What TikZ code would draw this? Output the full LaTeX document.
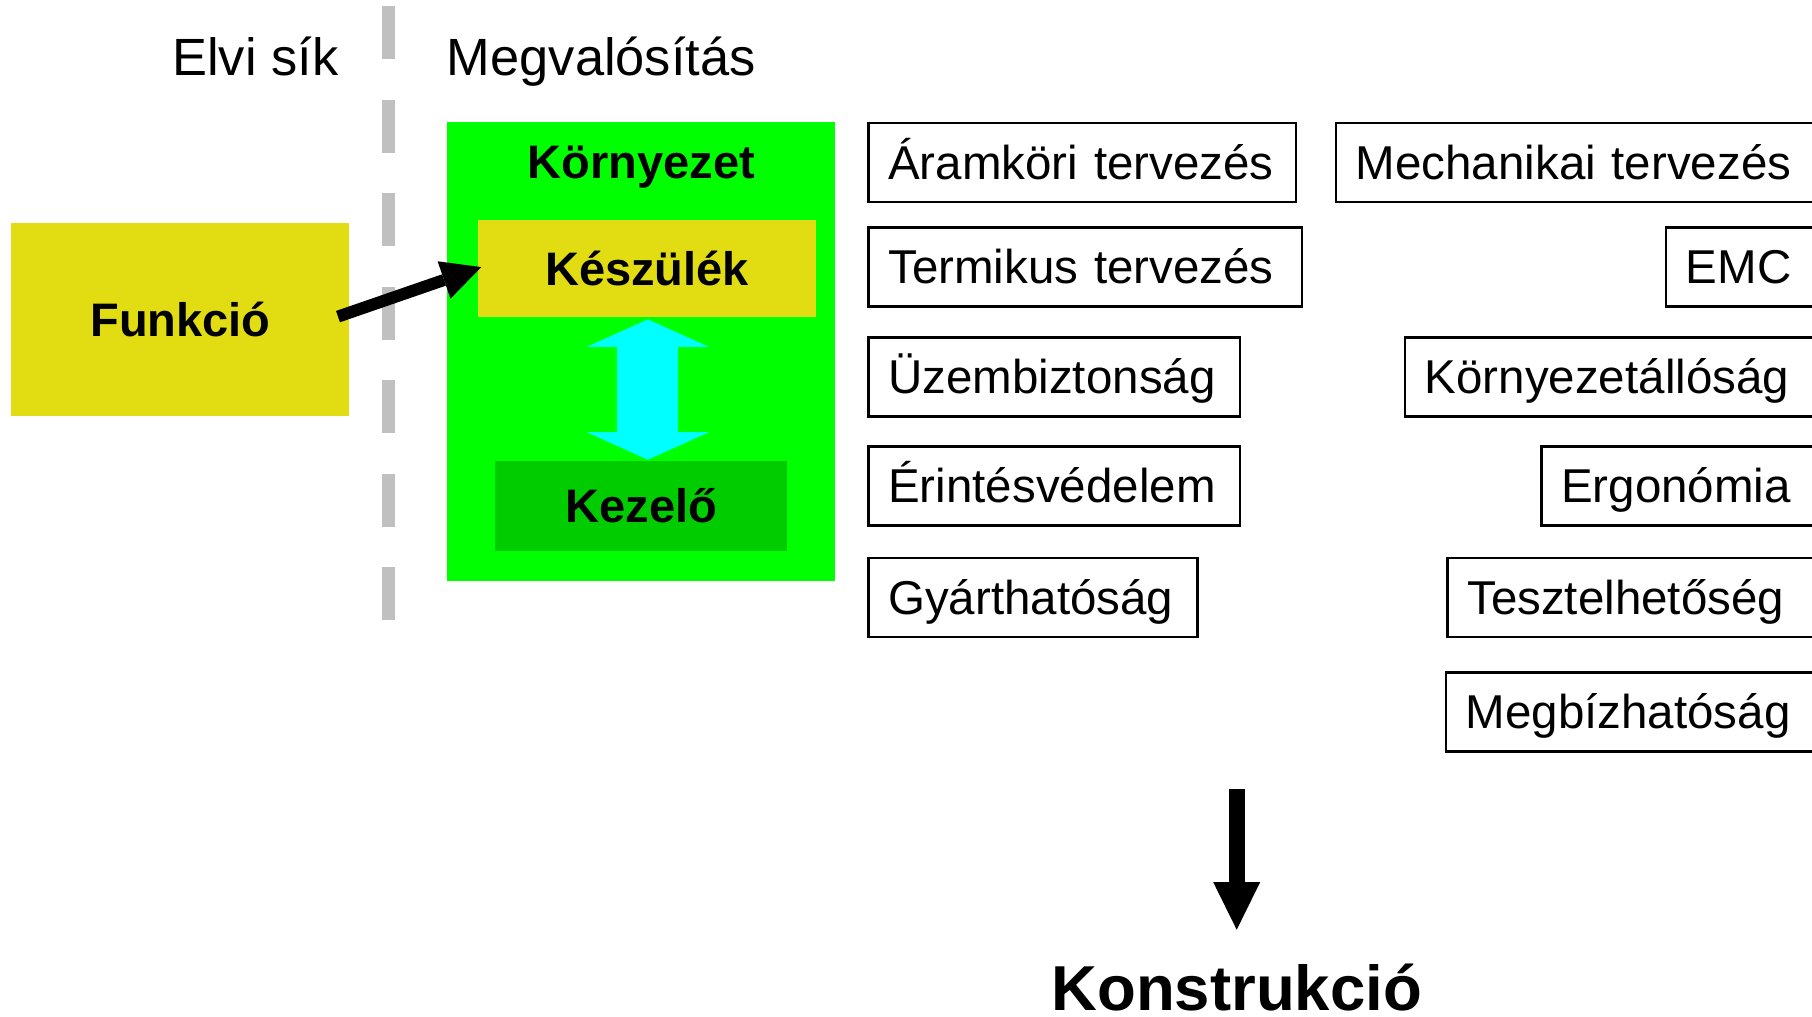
\documentclass[tikz,border=0pt]{standalone}
\usepackage{fontspec}
\setmainfont{Liberation Sans}
\usetikzlibrary{arrows.meta,calc}

\definecolor{funcyellow}{RGB}{225,221,18}
\definecolor{envgreen}{RGB}{0,255,0}
\definecolor{opgreen}{RGB}{0,204,0}
\definecolor{linkcyan}{RGB}{0,255,255}
\definecolor{dashgray}{RGB}{192,192,192}

\tikzset{
  headtext/.style={font=\fontsize{26.2}{30}\selectfont, inner sep=0pt},
  boldtext/.style={font=\bfseries\fontsize{23.5}{28}\selectfont, text height=16.8pt, text depth=0pt},
  solidbox/.style={anchor=north west, inner sep=0pt, boldtext},
  taskbox/.style={anchor=north west, draw=black, line width=1.25pt, align=left,
    inner xsep=10pt, inner ysep=0pt, minimum height=39.5pt,
    font=\fontsize{23.75}{28}\selectfont, text height=17pt, text depth=0pt},
  planeline/.style={draw=dashgray, line width=6.5pt, dash pattern=on 26.5pt off 20.25pt},
  realizes/.style={draw=black, line width=6pt,
    -{Triangle[length=19.7pt,width=19.75pt,line width=0pt]}},
  interacts/.style={draw=linkcyan, line width=30.5pt,
    {Triangle[length=13.75pt,width=61pt,line width=0pt]}-{Triangle[length=13.75pt,width=61pt,line width=0pt]}},
  leadsto/.style={draw=black, line width=8pt,
    -{Triangle[length=23.8pt,width=23.5pt,line width=0pt]}}
}

\begin{document}
\begin{tikzpicture}[x=0.5pt,y=-0.5pt]
\useasboundingbox (0,0) rectangle (1812,1017);
\clip (0,0) rectangle (1812,1017);

% boundary between the abstract plane and the realisation
\draw[planeline] (388,6) -- (388,620);
\node[headtext, anchor=base west] (elvi) at (172,75.6) {Elvi sík};
\node[headtext, anchor=base west] (megv) at (446.5,75.6) {Megvalósítás};

% function on the abstract side
\node[solidbox, fill=funcyellow, minimum width=169pt, minimum height=96.5pt] (fun) at (11,222.7) {Funkció};

% environment with device and operator
\node[anchor=north west, inner sep=0pt, fill=envgreen, minimum width=194pt, minimum height=229.5pt] (env) at (447,122) {};
\node[boldtext, anchor=base, inner sep=0pt] (envlabel) at ($(env.north)+(0,56.6)$) {Környezet};
\node[solidbox, fill=funcyellow, minimum width=168.75pt, minimum height=48.3pt] (kesz) at (478,220) {Készülék};
\node[solidbox, fill=opgreen, minimum width=146.2pt, minimum height=45.25pt] (kez) at (494.6,460.5) {Kezelő};

\draw[interacts] ($(kesz.south)+(0.7,2)$) -- ($(kez.north -| kesz.south)+(0.7,-0.8)$);
\draw[realizes] ($(fun.east)+(-11.8,-3)$) -- ($(kesz.west)+(3.3,-1.6)$);

% design aspects, left column
\node[taskbox, text width=193.75pt] (aram) at (867,121.5) {Áramköri tervezés};
\node[taskbox, text width=196.75pt] (term) at (867,226)   {Termikus tervezés};
\node[taskbox, text width=165.75pt] (uzem) at (867,336)   {Üzembiztonság};
\node[taskbox, text width=165.75pt] (erint) at (867,445)  {Érintésvédelem};
\node[taskbox, text width=144.5pt]  (gyart) at (867,556.5){Gyárthatóság};

% design aspects, right column (running past the right edge)
\node[taskbox, text width=242pt] (mech) at (1334.5,121.5) {Mechanikai tervezés};
\node[taskbox, text width=100pt] (emc)  at (1664.5,226)   {EMC};
\node[taskbox, text width=228pt] (korny) at (1403.5,336)  {Környezetállóság};
\node[taskbox, text width=160pt] (ergo) at (1540,445)     {Ergonómia};
\node[taskbox, text width=207pt] (teszt) at (1446,556.5)  {Tesztelhetőség};
\node[taskbox, text width=208pt] (megb) at (1444.5,671)   {Megbízhatóság};

% result
\node[font=\bfseries\fontsize{31.75}{36}\selectfont, anchor=base, inner sep=0pt, text height=22.7pt, text depth=0pt] (kons) at (1236.7,1010.5) {Konstrukció};
\coordinate (kstart) at (1236.7,789.3);
\draw[leadsto] (kstart) -- ($(kons.north)+(0,-35)$);
\end{tikzpicture}
\end{document}
